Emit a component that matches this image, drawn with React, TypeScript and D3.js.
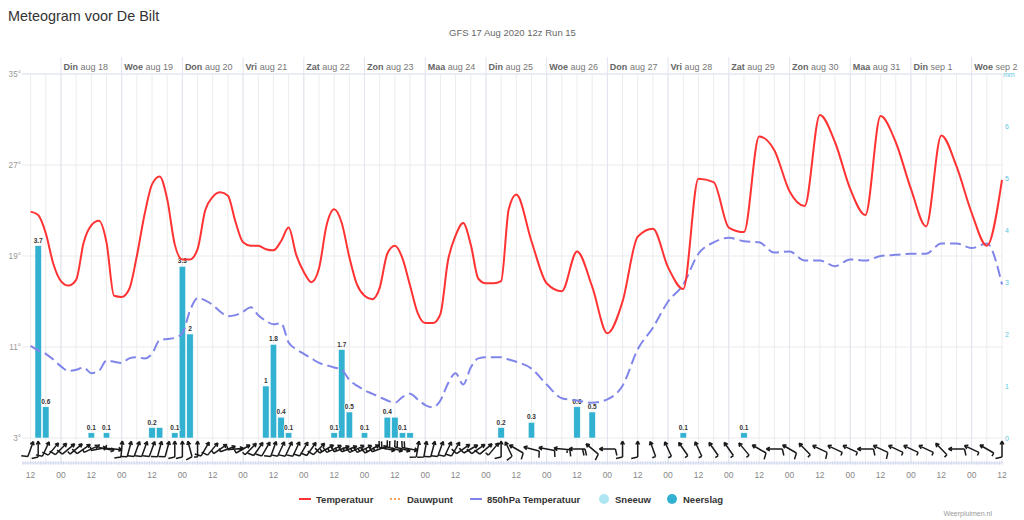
import React from 'react';
import * as d3 from 'd3';

const title = 'Meteogram voor De Bilt';
const subtitle = 'GFS 17 Aug 2020 12z Run 15';
const credits = 'Weerpluimen.nl';

// hours after 17 Aug 2020 12z: 3-hourly up to +192, then 6-hourly
const hours = [...d3.range(0, 193, 3), ...d3.range(198, 385, 6)];

const temperature = [
  22.9, 22.6, 21.0, 18.3, 16.8, 16.4, 16.9, 20.2, 21.7, 22.1, 20.2, 15.5, 15.4, 16.1, 19.0, 22.6,
  25.3, 26.0, 24.0, 20.0, 18.7, 18.7, 19.6, 23.0, 24.2, 24.6, 24.3, 22.0, 20.2, 19.9, 19.9, 19.6,
  19.5, 20.3, 21.5, 19.1, 17.6, 16.7, 17.9, 21.7, 23.1, 21.9, 18.9, 16.5, 15.5, 15.2, 16.2, 19.2,
  19.9, 18.8, 16.4, 14.0, 13.1, 13.1, 13.9, 18.6, 20.8, 21.9, 20.0, 17.0, 16.6, 16.6, 16.8, 23.1,
  24.4,
  20.3, 16.6, 15.9, 19.4, 16.3, 12.2, 15.0, 20.7, 21.4, 18.0, 16.1, 25.8, 25.5, 21.5, 21.1, 29.5,
  28.3, 24.7, 23.4, 31.4, 29.0, 24.9, 22.6, 31.3, 29.0, 24.9, 21.6, 29.6, 26.9, 22.8, 19.9, 25.7,
];

const temp850 = [
  11.1, 10.7, 10.4, 9.9, 9.3, 8.9, 9.0, 9.2, 8.7, 8.9, 9.8, 9.7, 9.6, 10.0, 10.1, 10.0,
  10.4, 11.6, 11.7, 11.8, 12.2, 14.2, 15.3, 15.1, 14.7, 14.1, 13.7, 13.8, 14.1, 14.5, 13.8, 13.3,
  13.0, 13.1, 11.4, 10.8, 10.4, 10.0, 9.6, 9.4, 9.2, 9.0, 8.1, 7.6, 7.2, 6.9, 6.6, 6.3,
  6.1, 6.6, 6.9, 6.4, 5.9, 5.7, 6.3, 7.8, 8.7, 7.7, 9.2, 10.0, 10.1, 10.1, 10.1, 9.9,
  9.7,
  9.1, 7.7, 6.5, 6.3, 6.1, 6.4, 7.6, 10.8, 12.7, 15.0, 16.5, 19.2, 20.2, 20.6, 20.3, 20.2,
  19.3, 19.4, 18.6, 18.6, 18.1, 18.7, 18.6, 19.0, 19.1, 19.2, 19.2, 20.1, 20.1, 19.7, 20.1, 16.5,
];

const precipHours = [3, 6, 24, 30, 48, 51, 57, 60, 63, 93, 96, 99, 102, 120, 123, 126, 132, 141, 144, 147, 150, 186, 198, 216, 222, 258, 282];
const precipValues = [3.7, 0.6, 0.1, 0.1, 0.2, 0.2, 0.1, 3.3, 2, 1, 1.8, 0.4, 0.1, 0.1, 1.7, 0.5, 0.1, 0.4, 0.4, 0.1, 0.1, 0.2, 0.3, 0.6, 0.5, 0.1, 0.1];

// wind direction (degrees, where it comes from) and speed (knots), same times as hours
const windDirection = [
  200, 180, 205, 220, 225, 230, 230, 235, 245, 260, 280, 275, 185, 195, 200, 200,
  200, 195, 195, 180, 180, 165, 180, 210, 220, 235, 250, 265, 240, 225, 215, 210,
  200, 205, 205, 205, 210, 215, 225, 240, 245, 250, 250, 245, 245, 240, 250, 280,
  285, 285, 280, 190, 190, 195, 200, 205, 210, 235, 240, 235, 230, 220, 180, 155,
  120,
  105, 100, 95, 90, 130, 90, 180, 180, 160, 155, 145, 155, 145, 145, 140, 120,
  90, 120, 135, 115, 115, 115, 90, 115, 115, 115, 115, 135, 90, 115, 120, 180,
];
const windSpeed = [
  12, 13, 12, 11, 10, 10, 9, 10, 9, 8, 8, 9, 10, 11, 11, 12,
  12, 12, 11, 10, 10, 12, 9, 10, 10, 9, 8, 8, 8, 9, 10, 11,
  12, 12, 12, 12, 12, 13, 14, 16, 18, 18, 18, 17, 16, 15, 15, 20,
  22, 22, 21, 12, 12, 12, 12, 12, 12, 11, 11, 11, 10, 9, 10, 12,
  10,
  12, 14, 16, 22, 14, 12, 10, 10, 9, 9, 9, 9, 9, 9, 9, 10,
  12, 10, 9, 10, 9, 9, 12, 10, 9, 9, 9, 9, 12, 9, 9, 10,
];

const dayNames = ['Din', 'Woe', 'Don', 'Vri', 'Zat', 'Zon', 'Maa', 'Din', 'Woe', 'Don', 'Vri', 'Zat', 'Zon', 'Maa', 'Din', 'Woe'];
const dayDates = ['aug 18', 'aug 19', 'aug 20', 'aug 21', 'aug 22', 'aug 23', 'aug 24', 'aug 25', 'aug 26', 'aug 27', 'aug 28', 'aug 29', 'aug 30', 'aug 31', 'sep 1', 'sep 2'];

const tempTicks = [3, 11, 19, 27, 35];
const precipTicks = [0, 1, 2, 3, 4, 5, 6];

const legendItems = [
  { name: 'Temperatuur', kind: 'line', color: '#ff3333', dash: '' },
  { name: 'Dauwpunt', kind: 'line', color: '#f7a35c', dash: '2,2' },
  { name: '850hPa Temperatuur', kind: 'line', color: '#8085e9', dash: '' },
  { name: 'Sneeuw', kind: 'dot', color: '#aee6f2', dash: '' },
  { name: 'Neerslag', kind: 'dot', color: '#33b1d1', dash: '' },
];
const legendX = [299, 390, 470, 599, 667];

const font = '"Liberation Sans", Arial, sans-serif';

// arrow pointing where the wind goes, barbs on the upwind end
function barbPath(cx: number, cy: number, from: number, speed: number) {
  const a = ((from - 180) * Math.PI) / 180;
  const dx = Math.sin(a);
  const dy = -Math.cos(a);
  const L = 16;
  const tx = cx + (dx * L) / 2, ty = cy + (dy * L) / 2;
  const sx = cx - (dx * L) / 2, sy = cy - (dy * L) / 2;
  let p = `M${sx},${sy}L${tx},${ty}`;
  for (const s of [-1, 1]) {
    const ang = a + Math.PI + s * 0.5;
    p += `M${tx},${ty}L${tx + Math.sin(ang) * 4},${ty - Math.cos(ang) * 4}`;
  }
  const px = dy, py = -dx;
  let pos = 0;
  const full = Math.floor(speed / 10);
  const half = speed % 10 >= 5;
  for (let i = 0; i < full; i++) {
    const bx = sx + dx * pos, by = sy + dy * pos;
    p += `M${bx},${by}L${bx + px * 6.5 - dx * 1.5},${by + py * 6.5 - dy * 1.5}`;
    pos += 2.5;
  }
  if (half) {
    const bx = sx + dx * pos, by = sy + dy * pos;
    p += `M${bx},${by}L${bx + px * 3.5},${by + py * 3.5}`;
  }
  return p;
}

export default function App() {
  const x = d3.scaleLinear().domain([-3.4, 384]).range([22, 1002]);
  const yT = d3.scaleLinear().domain([3, 35]).range([438, 74]);
  const yP = d3.scaleLinear().domain([0, 7]).range([438, 74]);
  const plotLeft = 22, plotRight = 1002, plotTop = 74, axisY = 463;

  const line = d3.line<number>()
    .x((_, i) => x(hours[i]))
    .y(d => yT(d))
    .curve(d3.curveMonotoneX);

  const gridHours = d3.range(0, 385, 6);
  const dayHours = dayNames.map((_, i) => 12 + 24 * i);
  const labelHours = d3.range(0, 385, 12);
  const minorHours = d3.range(-3, 385, 1);

  // data labels, hidden when they overlap an earlier one
  const barW = 6.4;
  const shown: { x0: number, x1: number, y0: number, y1: number }[] = [];
  const labels = precipValues.map((v, i) => {
    const cx = x(precipHours[i]);
    const top = yP(v);
    const txt = String(v);
    const w = txt.length * 4;
    const box = { x0: cx - w / 2, x1: cx + w / 2, y0: top - 10, y1: top - 2 };
    const hit = shown.some(b => b.x0 < box.x1 && box.x0 < b.x1 && b.y0 < box.y1 && box.y0 < b.y1);
    if (!hit) shown.push(box);
    return { cx, top, txt, show: !hit };
  });

  return (
    <svg width={1024} height={520} style={{ position: 'absolute', left: 0, top: 0, fontFamily: font }}>
      <rect width={1024} height={520} fill="#fff" />
      <text x={8} y={21} fontSize={14.4} fill="#333">{title}</text>
      <text x={512.5} y={36} fontSize={9.5} fill="#666" textAnchor="middle">{subtitle}</text>

      {tempTicks.map(t => (
        <line key={'h' + t} x1={plotLeft} x2={plotRight} y1={yT(t)} y2={yT(t)} stroke="#ebebeb" />
      ))}
      {gridHours.map(h => (
        <line key={'v' + h} x1={x(h)} x2={x(h)} y1={plotTop} y2={axisY} stroke="#ececec" />
      ))}
      {dayHours.map(h => (
        <line key={'d' + h} x1={x(h)} x2={x(h)} y1={57} y2={axisY} stroke="#e1e5ee" />
      ))}
      <line x1={plotLeft} x2={plotRight} y1={plotTop} y2={plotTop} stroke="#dfe5f1" />

      {dayHours.map((h, i) => (
        <text key={'dl' + i} x={x(h) + 2.5} y={69.5} fontSize={9} fill="#666">
          <tspan fontWeight="bold">{dayNames[i]}</tspan>
          <tspan fill="#777"> {dayDates[i]}</tspan>
        </text>
      ))}

      {tempTicks.map(t => (
        <text key={'tl' + t} x={21} y={yT(t) + 3} fontSize={8.2} fill="#999" textAnchor="end">{t}°</text>
      ))}
      {precipTicks.map(t => (
        <text key={'pl' + t} x={1005} y={yP(t) + 2.5} fontSize={7} fill="#5cc6e0">{t}</text>
      ))}
      <text x={1003} y={yP(7) + 2.5} fontSize={7} fill="#5cc6e0">mm</text>

      {precipValues.map((v, i) => (
        <rect key={'b' + i} x={x(precipHours[i]) - barW / 2} y={yP(v)} width={barW} height={yP(0) - yP(v)}
          fill="#33b1d1" stroke="#fff" strokeWidth={0.5} />
      ))}
      {labels.filter(l => l.show).map((l, i) => (
        <text key={'bl' + i} x={l.cx} y={l.top - 3} fontSize={6.5} fontWeight="bold" fill="#333" textAnchor="middle"
          stroke="#fff" strokeWidth={1.5} paintOrder="stroke">{l.txt}</text>
      ))}

      <path d={line(temp850) ?? ''} fill="none" stroke="#8085e9" strokeWidth={2} strokeDasharray="11,5" />
      <path d={line(temperature) ?? ''} fill="none" stroke="#ff3333" strokeWidth={2} />

      {windDirection.map((d, i) => (
        <path key={'w' + i} d={barbPath(x(hours[i]), 449, d, windSpeed[i])} fill="none" stroke="#1a1a1a" strokeWidth={1.5} />
      ))}

      <line x1={plotLeft} x2={plotRight} y1={axisY} y2={axisY} stroke="#ccd6eb" />
      {minorHours.map(h => (
        <line key={'m' + h} x1={x(h)} x2={x(h)} y1={axisY - 2} y2={axisY + 2} stroke="#ccd6eb" strokeWidth={0.8} />
      ))}
      {labelHours.map(h => (
        <text key={'xl' + h} x={x(h)} y={478} fontSize={8.5} fill="#888" textAnchor="middle">{h % 24 === 0 ? '12' : '00'}</text>
      ))}

      {legendItems.map((it, i) => {
        const lx0 = legendX[i];
        return (
          <g key={'lg' + i}>
            {it.kind === 'line'
              ? <line x1={lx0} x2={lx0 + 12} y1={499} y2={499} stroke={it.color} strokeWidth={2} strokeDasharray={it.dash} />
              : <circle cx={lx0 + 5} cy={499} r={5} fill={it.color} />}
            <text x={lx0 + (it.kind === 'line' ? 17 : 16)} y={502.5} fontSize={9.5} fontWeight="bold" fill="#333">{it.name}</text>
          </g>
        );
      })}

      <text x={992} y={516} fontSize={7} fill="#999" textAnchor="end">{credits}</text>
    </svg>
  );
}
